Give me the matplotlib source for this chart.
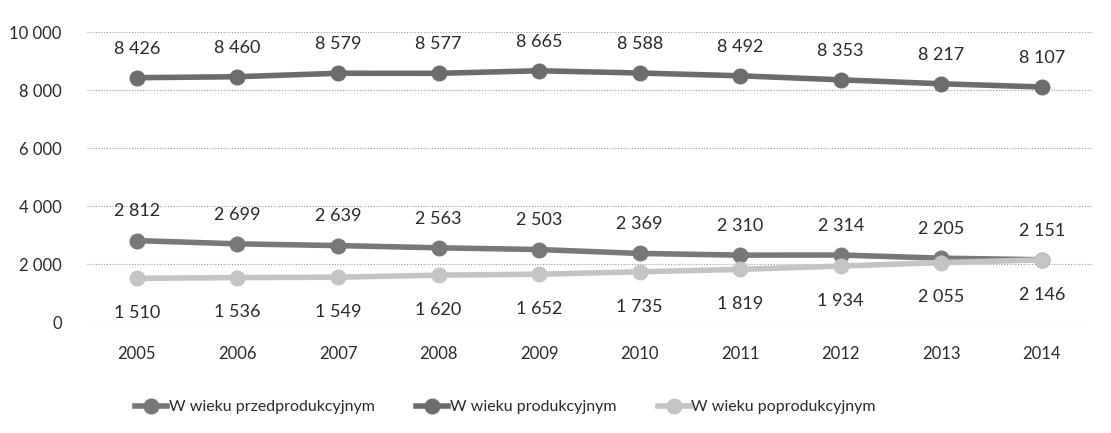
import numpy as np
import matplotlib
matplotlib.use("Agg")
import matplotlib.pyplot as plt
import matplotlib.ticker as mticker

# ── Dane ─────────────────────────────────────────────────────────────────────
years = ["2005", "2006", "2007", "2008", "2009", "2010", "2011", "2012", "2013", "2014"]
przedprod = [2812, 2699, 2639, 2563, 2503, 2369, 2310, 2314, 2205, 2151]
prod = [8426, 8460, 8579, 8577, 8665, 8588, 8492, 8353, 8217, 8107]
poprod = [1510, 1536, 1549, 1620, 1652, 1735, 1819, 1934, 2055, 2146]

plt.rcParams["font.family"] = ["Lato", "DejaVu Sans"]

def fmt(v):
    return f"{v:,}".replace(",", "\u00a0")

fig = plt.figure(figsize=(11.11, 4.33), dpi=100)
ax = fig.add_axes([0.078, 0.256, 0.905, 0.67])
x = np.arange(len(years))

# (wartości, kolor, etykieta, przesunięcie etykiet w pt)
series = [
    (przedprod, "#787878", "W wieku przedprodukcyjnym", 21),
    (prod, "#6c6c6c", "W wieku produkcyjnym", 21),
    (poprod, "#c4c4c4", "W wieku poprodukcyjnym", -25),
]
for vals, col, lab, off in series:
    ax.plot(x, vals, color=col, linewidth=4, marker="o", markersize=10.5,
            markerfacecolor=col, markeredgecolor=col, label=lab)
    for xi, v in zip(x, vals):
        ax.annotate(fmt(v), (xi, v), xytext=(0, off), textcoords="offset points",
                    ha="center", va="center", fontsize=13, color="#2a2a2a")

ax.set_xlim(-0.5, len(years) - 0.5)
ax.set_ylim(0, 10000)
ax.set_yticks(range(0, 10001, 2000))
ax.yaxis.set_major_formatter(mticker.FuncFormatter(lambda v, p: fmt(int(v))))
ax.set_xticks(x)
ax.set_xticklabels(years)
ax.tick_params(axis="both", length=0, labelsize=12, labelcolor="#2a2a2a")
ax.tick_params(axis="y", pad=18)
ax.tick_params(axis="x", pad=17)
ax.grid(axis="y", color="#9a9a9a", linestyle=(0, (1, 1.5)), linewidth=0.8)
for s in ax.spines.values():
    s.set_visible(False)

fig.legend(loc="center", bbox_to_anchor=(0.455, 0.06), ncol=3, frameon=False,
           fontsize=11.5, handlelength=2.0, handletextpad=0.1, columnspacing=2.6,
           labelcolor="#2a2a2a")

fig.savefig("out.png", dpi=100)
